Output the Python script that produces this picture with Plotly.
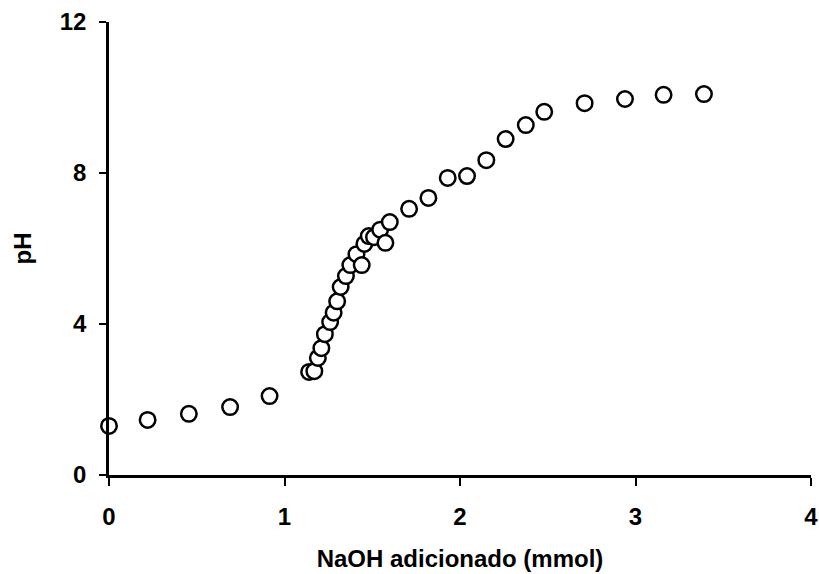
import plotly.graph_objects as go

naoh_mmol = [0, 0.22, 0.455, 0.69, 0.915, 1.14, 1.17, 1.19, 1.21, 1.23, 1.26, 1.28,
             1.30, 1.32, 1.35, 1.375, 1.41, 1.44, 1.455, 1.48, 1.51, 1.545, 1.575,
             1.60, 1.71, 1.82, 1.93, 2.04, 2.15, 2.26, 2.375, 2.48, 2.71, 2.94,
             3.16, 3.39]
ph = [1.30, 1.46, 1.62, 1.80, 2.09, 2.73, 2.75, 3.10, 3.36, 3.73, 4.05, 4.30,
      4.60, 4.98, 5.27, 5.56, 5.85, 5.56, 6.12, 6.33, 6.30, 6.50, 6.15, 6.70,
      7.05, 7.34, 7.87, 7.92, 8.34, 8.90, 9.27, 9.62, 9.85, 9.96, 10.07, 10.09]

x_ticks = [0, 1, 2, 3, 4]
y_ticks = [0, 4, 8, 12]

font_fam = "Liberation Sans"

fig = go.Figure(go.Scatter(
    x=naoh_mmol, y=ph, mode="markers", cliponaxis=False,
    marker=dict(symbol="circle", size=15.5, color="white",
                line=dict(color="black", width=2.5)),
    showlegend=False,
))

fig.update_layout(
    width=819, height=574,
    margin=dict(l=109, r=8, t=22, b=99),
    paper_bgcolor="white", plot_bgcolor="white",
    font=dict(family=font_fam, color="black", size=24),
    xaxis=dict(range=[0, 4], tickvals=x_ticks, showgrid=False, zeroline=False,
               automargin=False,
               showline=True, linecolor="black", linewidth=2.5,
               ticks="outside", ticklen=8, tickwidth=2, tickcolor="black",
               ticklabelstandoff=10,
               tickfont=dict(family=font_fam, size=24, weight="bold"),
               title=dict(text="NaOH adicionado (mmol)", standoff=22,
                          font=dict(family=font_fam, size=24, weight="bold"))),
    yaxis=dict(range=[0, 12], tickvals=y_ticks, showgrid=False, zeroline=False,
               automargin=False,
               showline=True, linecolor="black", linewidth=2.5,
               ticks="outside", ticklen=7, tickwidth=2, tickcolor="black",
               ticklabelstandoff=8,
               tickfont=dict(family=font_fam, size=24, weight="bold"),
               title=dict(text="pH", standoff=22,
                          font=dict(family=font_fam, size=24, weight="bold"))),
)

fig.write_html(
    "out.html",
    config={"displayModeBar": False},
    post_script="document.body.style.margin='0';document.body.style.overflow='hidden';",
)
